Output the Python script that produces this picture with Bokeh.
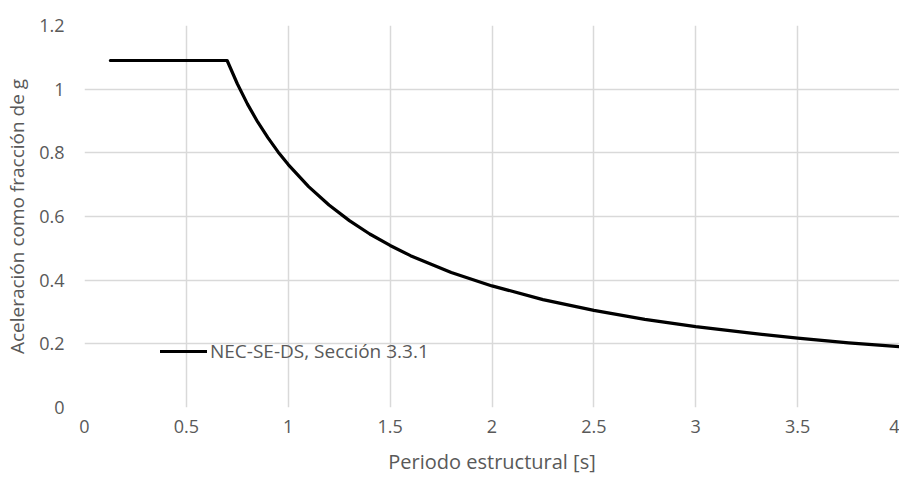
from bokeh.plotting import figure
from bokeh.models import Range1d, FixedTicker, Legend, LegendItem
from bokeh.embed import file_html
from bokeh.resources import INLINE

# Data
periodo = [0.127, 0.70, 0.75, 0.80, 0.85, 0.90, 0.95, 1.00, 1.10, 1.20, 1.30, 1.40,
           1.50, 1.60, 1.80, 2.00, 2.25, 2.50, 2.75, 3.00, 3.25, 3.50, 3.75, 4.00]
aceleracion = [1.09, 1.09, 1.017, 0.953, 0.897, 0.848, 0.803, 0.763, 0.694, 0.636,
               0.587, 0.545, 0.509, 0.477, 0.424, 0.382, 0.339, 0.305, 0.277,
               0.254, 0.235, 0.218, 0.203, 0.191]
serie = "NEC-SE-DS, Sección 3.3.1"

x_ticks = [0, 0.5, 1, 1.5, 2, 2.5, 3, 3.5, 4]
x_labels = ["0", "0.5", "1", "1.5", "2", "2.5", "3", "3.5", "4"]
y_ticks = [0, 0.2, 0.4, 0.6, 0.8, 1, 1.2]
y_labels = ["0", "0.2", "0.4", "0.6", "0.8", "1", "1.2"]

FONT = "Open Sans"
TXT = "#595959"
GRID = "#d9d9d9"

p = figure(width=899, height=477, output_backend="svg", toolbar_location=None,
           x_range=Range1d(0, 4), y_range=Range1d(0, 1.2),
           min_border_left=84, min_border_right=0, min_border_top=25,
           min_border_bottom=66, border_fill_color="white")
p.outline_line_color = None

r = p.line(periodo, aceleracion, line_color="black", line_width=3.2,
           line_cap="round", line_join="round")

for ax, ticks, labels in ((p.xaxis[0], x_ticks, x_labels), (p.yaxis[0], y_ticks, y_labels)):
    ax.ticker = FixedTicker(ticks=ticks)
    ax.major_label_overrides = {t: l for t, l in zip(ticks, labels)}
    ax.axis_line_color = None
    ax.major_tick_line_color = None
    ax.minor_tick_line_color = None
    ax.major_label_text_font = FONT
    ax.major_label_text_font_size = "18px"
    ax.major_label_text_color = TXT
    ax.axis_label_text_font = FONT
    ax.axis_label_text_font_style = "normal"
    ax.axis_label_text_color = TXT

p.xaxis[0].axis_label = "Periodo estructural [s]"
p.yaxis[0].axis_label = "Aceleración como fracción de g"
p.xaxis[0].axis_label_text_font_size = "20px"
p.yaxis[0].axis_label_text_font_size = "19px"
p.xaxis[0].major_label_standoff = 6
p.xaxis[0].axis_label_standoff = 12
p.yaxis[0].major_label_standoff = 14
p.yaxis[0].axis_label_standoff = 6

for g in (p.xgrid[0], p.ygrid[0]):
    g.grid_line_color = GRID
    g.grid_line_width = 1.5

legend = Legend(items=[LegendItem(label=serie, renderers=[r])],
                location=(76, 43), orientation="vertical",
                background_fill_alpha=0, border_line_color=None,
                padding=0, margin=0, spacing=0,
                glyph_width=47, glyph_height=20, label_standoff=3,
                label_text_font=FONT, label_text_font_size="19px",
                label_text_color=TXT)
p.add_layout(legend, "center")

open("out.html", "w").write(file_html(p, INLINE))
